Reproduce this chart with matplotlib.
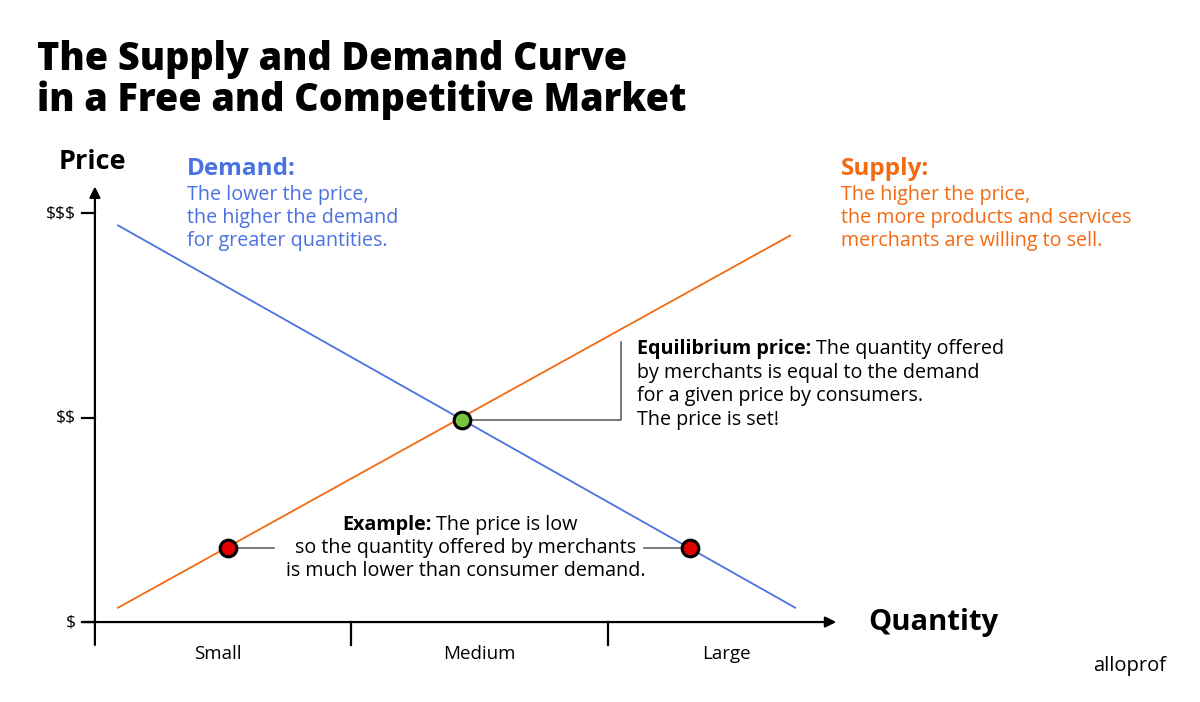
import matplotlib.pyplot as plt
from matplotlib.transforms import offset_copy

# data (quantity in "bins", price in $ levels)
price_levels = [1, 2, 3]
price_labels = ["$", "$$", "$$$"]
qty_bounds = [1, 2]
qty_centers = [0.48, 1.5, 2.46]
qty_labels = ["Small", "Medium", "Large"]

demand_q = [0.09, 2.73]
demand_p = [2.94, 1.07]
supply_q = [0.09, 2.71]
supply_p = [1.07, 2.89]

eq_q = 1.43
eq_p = 1.99
example_q = [0.52, 2.32]
example_p = [1.36, 1.36]

BLUE = "#4a72e0"
ORANGE = "#f26a12"
FONT = "Open Sans"
BODY = 14.2


def money(s):
    return s.replace("$", r"\$")


def bold_then_normal(ax, x, y, bold, rest, **kw):
    # bold lead-in followed by normal text on the same line
    t = ax.text(x, y, bold, fontweight="bold", **kw)
    w = t.get_window_extent(renderer=fig.canvas.get_renderer()).width
    tr = offset_copy(ax.transData, fig=fig, x=w * 72 / fig.dpi + 3, y=0, units="points")
    ax.text(x, y, rest, transform=tr, **kw)


fig = plt.figure(figsize=(12, 7.02), dpi=100)
ax = fig.add_axes([0, 0, 1, 1])
ax.set_xlim(-0.370, 4.308)
ax.set_ylim(0.609, 4.042)
ax.axis("off")

# axes with arrows
arr = dict(arrowstyle="-|>", lw=1.6, color="black", mutation_scale=16, shrinkA=0, shrinkB=0)
ax.annotate("", xy=(0, 3.13), xytext=(0, 0.888), arrowprops=arr)
ax.annotate("", xy=(2.89, 1), xytext=(-0.05, 1), arrowprops=arr)
for p, lab in zip(price_levels, price_labels):
    ax.plot([-0.05, 0], [p, p], color="black", lw=1.6)
    ax.text(-0.075, p, money(lab), ha="right", va="center", fontsize=12.5, family=FONT)
for q in qty_bounds:
    ax.plot([q, q], [1, 0.888], color="black", lw=1.6)
for q, lab in zip(qty_centers, qty_labels):
    ax.text(q, 0.845, lab, ha="center", va="center", fontsize=13.5, family=FONT)

# curves
ax.plot(demand_q, demand_p, color=BLUE, lw=1.3)
ax.plot(supply_q, supply_p, color=ORANGE, lw=1.3)

# connectors
ax.plot([eq_q, 2.05, 2.05], [eq_p, eq_p, 2.37], color="#555555", lw=1.1, zorder=2)
ax.plot([example_q[0], example_q[0] + 0.18], [example_p[0]] * 2, color="#555555", lw=1.1)
ax.plot([example_q[1] - 0.18, example_q[1]], [example_p[1]] * 2, color="#555555", lw=1.1)

ax.plot(example_q, example_p, "o", ms=12, mfc="#e30000", mec="black", mew=2.2, zorder=5)
ax.plot([eq_q], [eq_p], "o", ms=12, mfc="#77c443", mec="black", mew=2.2, zorder=5)

# titles
fig.text(0.031, 0.886, "The Supply and Demand Curve\nin a Free and Competitive Market",
         ha="left", va="center", fontsize=27.2, fontweight="heavy", family=FONT, linespacing=1.05)
ax.text(-0.14, 3.25, "Price", ha="left", va="center", fontsize=19.5, fontweight="bold", family=FONT)
ax.text(3.015, 1.0, "Quantity", ha="left", va="center", fontsize=21, fontweight="bold", family=FONT)

# demand / supply notes
ax.text(0.36, 3.215, "Demand:", ha="left", va="center", fontsize=17.5, fontweight="bold",
        color=BLUE, family=FONT)
ax.text(0.36, 3.137, "The lower the price,\nthe higher the demand\nfor greater quantities.",
        ha="left", va="top", fontsize=BODY, color=BLUE, family=FONT, linespacing=1.2)
ax.text(2.91, 3.215, "Supply:", ha="left", va="center", fontsize=17.5, fontweight="bold",
        color=ORANGE, family=FONT)
ax.text(2.91, 3.137, "The higher the price,\nthe more products and services\nmerchants are willing to sell.",
        ha="left", va="top", fontsize=BODY, color=ORANGE, family=FONT, linespacing=1.2)

# equilibrium note
note = dict(ha="left", va="center", fontsize=BODY, family=FONT)
bold_then_normal(ax, 2.115, 2.335, "Equilibrium price:", "The quantity offered", **note)
ax.text(2.115, 2.267, "by merchants is equal to the demand\nfor a given price by consumers.\nThe price is set!",
        ha="left", va="top", fontsize=BODY, family=FONT, linespacing=1.22)

# example note
bold_then_normal(ax, 0.965, 1.475, "Example:", "The price is low", **note)
ax.text(1.445, 1.306, "so the quantity offered by merchants\nis much lower than consumer demand.",
        ha="center", va="center", fontsize=BODY, family=FONT, linespacing=1.22)

fig.text(0.972, 0.051, "alloprof", ha="right", va="center", fontsize=14.5, family=FONT)

fig.savefig("out.png", dpi=100)
